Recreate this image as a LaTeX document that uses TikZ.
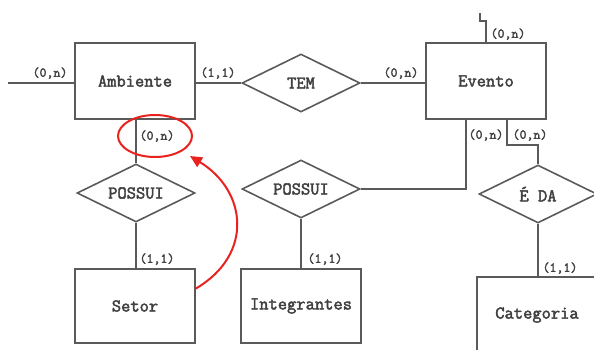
\documentclass[tikz,border=0pt]{standalone}
\usepackage{fontspec}
\setmonofont[AutoFakeBold=2.4]{Latin Modern Mono}
\usepackage{tikz}
\usetikzlibrary{positioning,arrows.meta,shapes.geometric,calc}
\definecolor{linha}{HTML}{5A5A5A}
\definecolor{marca}{HTML}{E8231F}

\begin{document}
\begin{tikzpicture}[
    x=1pt, y=-1pt,
    font=\ttfamily\bfseries\fontsize{18}{20}\selectfont,
    text=black!75,
    ent/.style={draw=linha, line width=1.6pt, minimum width=120pt, minimum height=76pt,
                inner sep=0pt},
    rel/.style={draw=linha, line width=1.6pt, diamond, aspect=2, inner sep=0pt,
                minimum width=118pt, minimum height=58pt},
    card/.style={font=\ttfamily\bfseries\fontsize{13.5}{15}\selectfont, inner sep=0pt},
    lig/.style={draw=linha, line width=1.6pt},
    destaque/.style={draw=marca, line width=2pt, ellipse, minimum width=74pt, minimum height=42pt},
    seta/.style={draw=marca, line width=2pt, -{Triangle[length=12pt, width=11pt]}}
]
\useasboundingbox (0,0) rectangle (594,349);

\node[ent] (amb) at (135,81) {Ambiente};
\node[rel] (tem) at (301,83) {TEM};
\node[ent] (evt) at (486,81) {Evento};
\node[rel] (pos1) at (136,193) {POSSUI};
\node[rel] (pos2) at (301,189) {POSSUI};
\node[rel] (eda) at (538,194) {É DA};
\node[ent, minimum height=74pt] (set) at (135,306) {Setor};
\node[ent, minimum height=74pt] (int) at (301,306) {Integrantes};
\node[ent] (cat) at (537,315) {Categoria};

\coordinate (solto) at (8,83);
\coordinate (topo) at (480,13);
\coordinate (alvo) at (190,156);

\draw[lig] (solto) -- (solto -| amb.west);
\draw[lig] (amb.east |- tem.west) -- (tem.west);
\draw[lig] (tem.east) -- (tem.east -| evt.west);
\draw[lig] (evt.north) -- ++(0,-21) -| (topo);
\draw[lig] (pos1.north) -- (pos1.north |- amb.south);
\draw[lig] (pos1.south) -- (pos1.south |- set.north);
\draw[lig] (pos2.east) -| ([xshift=-20pt]evt.south);
\draw[lig] (pos2.south) -- (pos2.south |- int.north);
\draw[lig] ([xshift=21pt]evt.south) -- ++(0,25) -| (eda.north);
\draw[lig] (eda.south) -- (eda.south |- cat.north);

\node[card] (c1) at (50,73) {(0,n)};
\node[card] (c2) at (218,73) {(1,1)};
\node[card] (c3) at (401,73) {(0,n)};
\node[card] (c4) at (508,34) {(0,n)};
\node[card] (c5) at (486,135) {(0,n)};
\node[card] (c6) at (530,135) {(0,n)};
\node[card] (c7) at (157,136) {(0,n)};
\node[card] (c8) at (157,259) {(1,1)};
\node[card] (c9) at (325,259) {(1,1)};
\node[card] (c10) at (560,268) {(1,1)};

\node[destaque] (circ) at (155,136) {};
\draw[seta] (set.16) .. controls +(58,-34) and +(57,35) .. (alvo);
\end{tikzpicture}
\end{document}
